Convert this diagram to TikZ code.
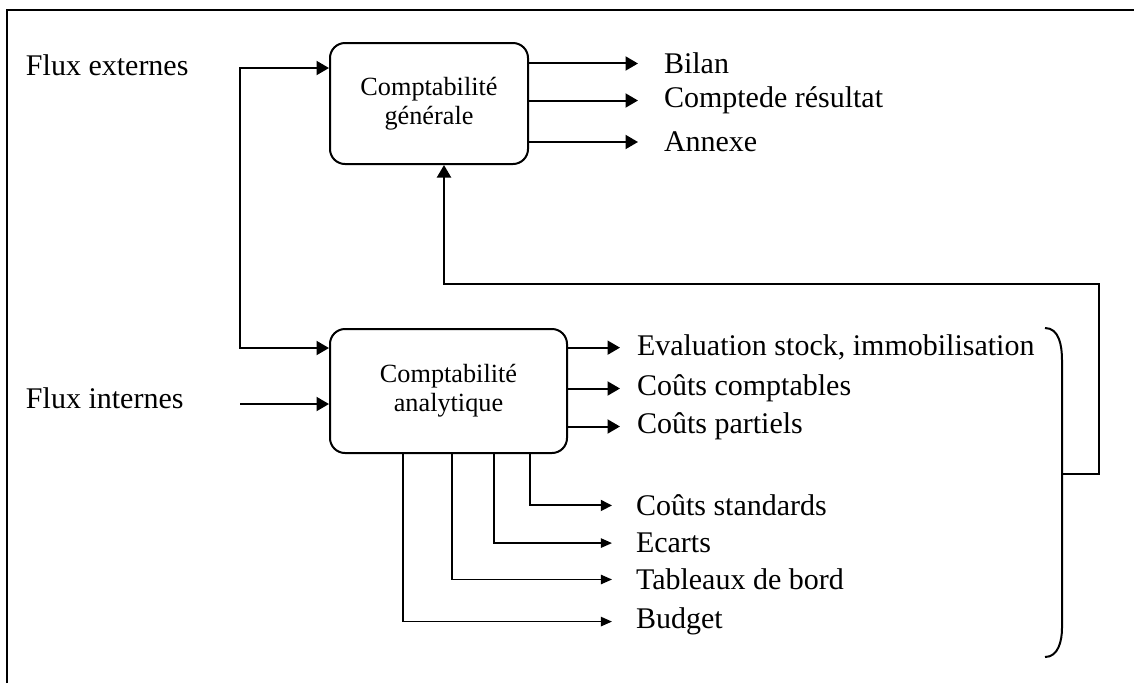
\documentclass[tikz,border=0pt]{standalone}
\usepackage{fontspec}
\setmainfont{Liberation Serif}
\usetikzlibrary{positioning,arrows.meta}

\begin{document}
\begin{tikzpicture}[%
    x=0.4pt, y=-0.4pt,          % one unit is one pixel of the scan, y going down
    >={Triangle[length=5pt,width=5.6pt]}, % filled arrow heads
    line width=0.8pt,           % default line
    ]
\tikzset{
  boite/.style={draw, rectangle, rounded corners=6pt, align=center,
    font=\fontsize{10.5}{11.6}\selectfont},
  texte/.style={inner sep=0pt, font=\fontsize{12}{14}\selectfont},
  sortie/.style={texte, anchor=mid west, outer xsep=#1},
  fin/.style={->, >={Triangle[length=4.5pt,width=3.8pt]}, line width=0.6pt},
}

\useasboundingbox (0,0) rectangle (1134,683);
\draw (7,683) -- (7,10) -- (1134,10);

\node [texte, anchor=base west] (fe) at (25,75) {Flux externes};
\node [texte, anchor=base west] (fi) at (25,408) {Flux internes};

\node [boite, minimum width=79.2pt, minimum height=48.4pt] (cg) at (429,103.5) {Comptabilité\\générale};
\node [boite, minimum width=94.8pt, minimum height=49.6pt] (ca) at (448.5,391) {Comptabilité\\analytique};

\node [sortie=10.4pt] (bilan) at (638,68) {Bilan};
\node [sortie=10.4pt] (cr) at (638,102) {Comptede résultat};
\node [sortie=10.4pt] (annexe) at (638,146) {Annexe};

\node [sortie=6.8pt] (eval) at (620,350) {Evaluation stock, immobilisation};
\node [sortie=6.8pt] (cc) at (620,390) {Coûts comptables};
\node [sortie=6.8pt] (cp) at (620,428) {Coûts partiels};

\node [sortie=9.6pt] (cs) at (612,510) {Coûts standards};
\node [sortie=9.6pt] (ecarts) at (612,547) {Ecarts};
\node [sortie=9.6pt] (tb) at (612,584) {Tableaux de bord};
\node [sortie=9.6pt] (budget) at (612,623) {Budget};

\coordinate (haut) at (240,68);
\coordinate (bas) at (240,348);
\coordinate (entree) at (240,404);
\coordinate (crochet) at (1062,474);
\coordinate (retour) at (1099,284);

%connect
\draw [<->] (cg.west |- haut) -- (haut) -- (bas) -- (ca.west |- bas);
\draw [->] (entree) -- (ca.west |- entree);

\draw [->] (cg.east |- bilan.west) -- (bilan.west);
\draw [->] (cg.east |- cr.west) -- (cr.west);
\draw [->] (cg.east |- annexe.west) -- (annexe.west);

\draw [->] (ca.east |- eval.west) -- (eval.west);
\draw [->] (ca.east |- cc.west) -- (cc.west);
\draw [->] (ca.east |- cp.west) -- (cp.west);

\draw [->, >={Triangle[length=4.5pt,width=4.4pt]}] ([xshift=80.4pt]ca.south west) |- (cs.west);
\draw [fin] ([xshift=66pt]ca.south west) |- (ecarts.west);
\draw [fin] ([xshift=49.2pt]ca.south west) |- (tb.west);
\draw [fin] ([xshift=29.6pt]ca.south west) |- (budget.west);

\draw (1045,328) to[out=0,in=90] (1062,360) -- (1062,628) to[out=-90,in=0] (1045,657);
\draw [->] (crochet) -| (retour) -| ([xshift=6pt]cg.south);

\end{tikzpicture}
\end{document}
